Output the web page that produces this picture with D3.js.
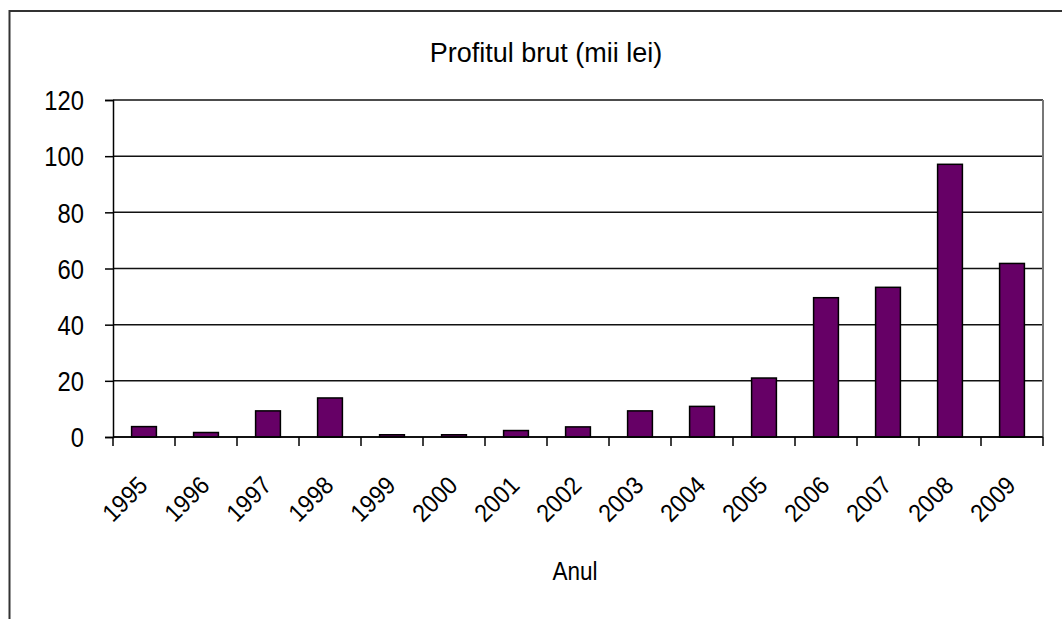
<!DOCTYPE html>
<html>
<head>
<meta charset="utf-8">
<script src="https://cdn.jsdelivr.net/npm/d3@7/dist/d3.min.js"></script>
<style>
  body { margin: 0; background: #fff; }
  text { font-family: "Liberation Sans", Arial, sans-serif; fill: #000; }
</style>
</head>
<body>
<div id="chart"></div>
<script>
// Chart data.
var years = ["1995", "1996", "1997", "1998", "1999", "2000", "2001", "2002",
             "2003", "2004", "2005", "2006", "2007", "2008", "2009"];
var profit = [3.7, 1.6, 9.3, 13.9, 0.8, 0.8, 2.3, 3.6,
              9.3, 10.9, 21, 49.6, 53.3, 97.1, 61.8];
var yTicks = [0, 20, 40, 60, 80, 100, 120];

var chartTitle = "Profitul brut (mii lei)";
var xTitle = "Anul";

// Page size and plot area.
var width = 1062;
var height = 619;
var plot = { left: 113, right: 1043, top: 100, bottom: 437 };

var svg = d3.select("#chart").append("svg")
    .attr("width", width)
    .attr("height", height);

svg.append("rect")
    .attr("width", width)
    .attr("height", height)
    .attr("fill", "#fff");

// Outer chart frame, cut off at the right and bottom of the picture.
svg.append("rect")
    .attr("x", 9.5)
    .attr("y", 11)
    .attr("width", 1200)
    .attr("height", 800)
    .attr("fill", "none")
    .attr("stroke", "#333")
    .attr("stroke-width", 2);

var x = d3.scaleBand()
    .domain(years)
    .range([plot.left, plot.right])
    .paddingInner(0.6)
    .paddingOuter(0.3);

var y = d3.scaleLinear()
    .domain([0, 120])
    .range([plot.bottom, plot.top]);

// Horizontal gridlines.
svg.append("g")
    .selectAll("line")
    .data(yTicks)
    .enter().append("line")
    .attr("x1", plot.left)
    .attr("x2", plot.right)
    .attr("y1", function(d) { return y(d); })
    .attr("y2", function(d) { return y(d); })
    .attr("stroke", "#111")
    .attr("stroke-width", 1.5);

// Right edge of the plot area.
svg.append("line")
    .attr("x1", plot.right)
    .attr("x2", plot.right)
    .attr("y1", plot.top)
    .attr("y2", plot.bottom)
    .attr("stroke", "#777")
    .attr("stroke-width", 2);

// Bars.
svg.append("g")
    .selectAll("rect")
    .data(profit)
    .enter().append("rect")
    .attr("x", function(d, i) { return x(years[i]); })
    .attr("width", x.bandwidth())
    .attr("y", function(d) { return y(d); })
    .attr("height", function(d) { return y(0) - y(d); })
    .attr("fill", "#660066")
    .attr("stroke", "#000")
    .attr("stroke-width", 1.5);

// Y axis.
var yAxis = d3.axisLeft(y)
    .tickValues(yTicks)
    .tickSize(8)
    .tickPadding(20);

var gy = svg.append("g")
    .attr("transform", "translate(" + plot.left + ",0)")
    .call(yAxis);
gy.select(".domain").attr("stroke", "#000").attr("stroke-width", 1.5);
gy.selectAll(".tick line").attr("stroke", "#000").attr("stroke-width", 1.5);
// Labels look a bit narrow in the picture: taller font, squeezed sideways.
gy.selectAll(".tick text")
    .attr("x", null)
    .attr("dy", "0.36em")
    .attr("transform", "translate(-29,0) scale(0.88,1)")
    .style("font-size", "27px");

// X axis: ticks sit on the band boundaries.
var step = x.step();
var bounds = d3.range(years.length + 1).map(function(i) {
    return plot.left + i * step;
});

svg.append("line")
    .attr("x1", plot.left)
    .attr("x2", plot.right)
    .attr("y1", plot.bottom)
    .attr("y2", plot.bottom)
    .attr("stroke", "#000")
    .attr("stroke-width", 1.5);

svg.append("g")
    .selectAll("line")
    .data(bounds)
    .enter().append("line")
    .attr("x1", function(d) { return d; })
    .attr("x2", function(d) { return d; })
    .attr("y1", plot.bottom)
    .attr("y2", plot.bottom + 9)
    .attr("stroke", "#000")
    .attr("stroke-width", 1.5);

svg.append("g")
    .selectAll("text")
    .data(years)
    .enter().append("text")
    .attr("text-anchor", "end")
    .attr("transform", function(d) {
        var cx = x(d) + x.bandwidth() / 2;
        return "translate(" + (cx + 5) + "," + 487 + ") rotate(-45) scale(0.92,1)";
    })
    .style("font-size", "25px")
    .text(function(d) { return d; });

// Titles.
svg.append("text")
    .attr("x", 546)
    .attr("y", 62)
    .attr("text-anchor", "middle")
    .style("font-size", "27px")
    .text(chartTitle);

svg.append("text")
    .attr("text-anchor", "middle")
    .attr("transform", "translate(575,580) scale(0.9,1)")
    .style("font-size", "25px")
    .text(xTitle);
</script>
</body>
</html>
